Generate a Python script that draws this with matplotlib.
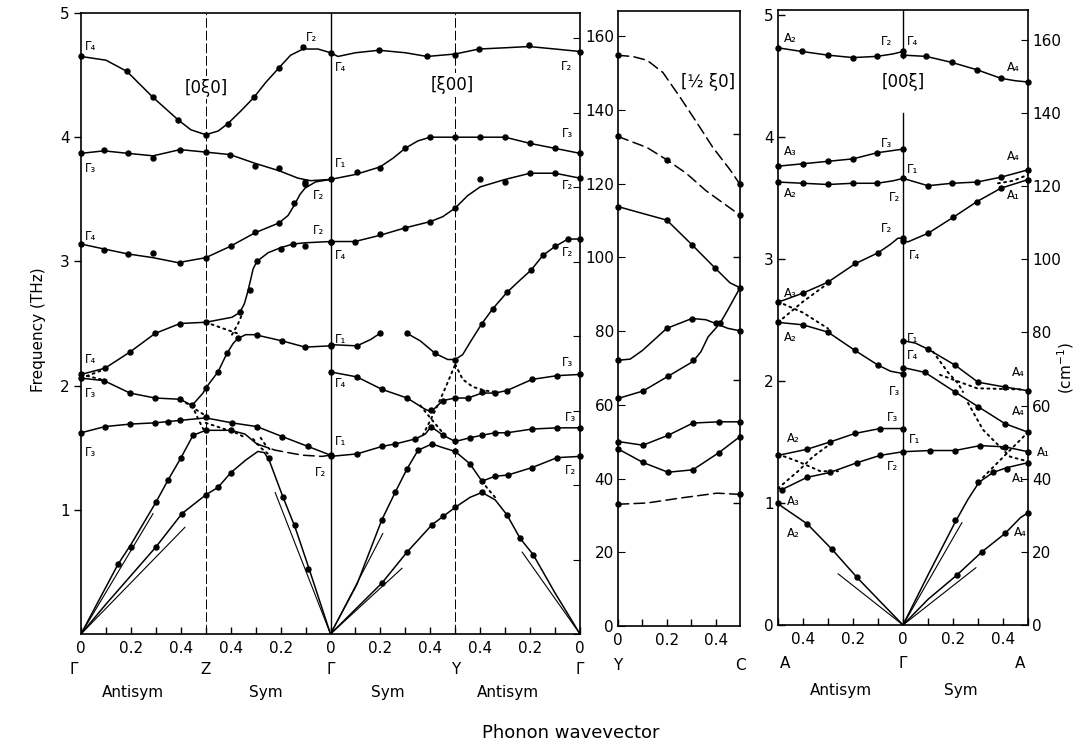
import matplotlib
matplotlib.use('Agg')
import matplotlib.pyplot as plt

THZ_PER_CM = 1 / 33.356

# ---------------- Panel 1 : Γ-Z-Γ-Y-Γ  (x: 0..2) ----------------
P1_TOP = [(0, 4.65), (0.1, 4.62), (0.184, 4.53), (0.289, 4.32), (0.389, 4.14), (0.44, 4.06), (0.5, 4.02),
          (0.55, 4.05), (0.589, 4.11), (0.64, 4.21), (0.693, 4.32), (0.74, 4.44), (0.794, 4.56),
          (0.84, 4.66), (0.89, 4.71), (0.95, 4.71), (1.0, 4.68), (1.03, 4.65), (1.1, 4.68), (1.194, 4.70),
          (1.3, 4.68), (1.387, 4.65), (1.5, 4.67), (1.595, 4.71), (1.7, 4.72), (1.796, 4.73), (1.9, 4.71), (2.0, 4.69)]
P1_TOP_DOTS = [(0, 4.65), (0.184, 4.53), (0.289, 4.32), (0.389, 4.14), (0.5, 4.02), (0.589, 4.11), (0.693, 4.32),
               (0.794, 4.56), (0.89, 4.73), (1.0, 4.68), (1.194, 4.70), (1.387, 4.65), (1.5, 4.66),
               (1.595, 4.71), (1.796, 4.74), (2.0, 4.69)]

P1_B2 = [(0, 3.87), (0.092, 3.89), (0.188, 3.87), (0.289, 3.85), (0.397, 3.90), (0.5, 3.88), (0.597, 3.86),
         (0.697, 3.79), (0.794, 3.73), (0.87, 3.67), (0.92, 3.65), (1.0, 3.66), (1.1, 3.70), (1.198, 3.76),
         (1.25, 3.83), (1.299, 3.91), (1.35, 3.97), (1.399, 4.00), (1.5, 4.00), (1.6, 4.00), (1.7, 4.00),
         (1.8, 3.95), (1.9, 3.91), (2.0, 3.87)]
P1_B2_DOTS = [(0, 3.87), (0.092, 3.90), (0.188, 3.87), (0.289, 3.83), (0.397, 3.90), (0.5, 3.88), (0.597, 3.86),
              (0.697, 3.77), (0.794, 3.75), (0.898, 3.64), (1.0, 3.66), (1.106, 3.72), (1.198, 3.75),
              (1.299, 3.91), (1.399, 4.0), (1.5, 4.0), (1.6, 4.0), (1.7, 4.0), (1.8, 3.95), (1.9, 3.91), (2.0, 3.87)]

P1_B3 = [(0, 3.14), (0.092, 3.10), (0.188, 3.06), (0.289, 3.03), (0.389, 2.99), (0.5, 3.03), (0.597, 3.12),
         (0.697, 3.23), (0.794, 3.31), (0.83, 3.37), (0.854, 3.45), (0.878, 3.54), (0.898, 3.59), (0.94, 3.64),
         (1.0, 3.66)]
P1_B3_DOTS = [(0, 3.14), (0.092, 3.09), (0.188, 3.06), (0.289, 3.07), (0.397, 2.99), (0.5, 3.03), (0.6, 3.12),
              (0.697, 3.24), (0.794, 3.31), (0.854, 3.47), (0.898, 3.62)]

P1_B3B = [(1.0, 3.16), (1.098, 3.16), (1.198, 3.21), (1.299, 3.27), (1.399, 3.32), (1.45, 3.36), (1.5, 3.43),
          (1.55, 3.53), (1.6, 3.60), (1.7, 3.66), (1.8, 3.71), (1.9, 3.71), (2.0, 3.67)]
P1_B3B_DOTS = [(1.0, 3.16), (1.098, 3.16), (1.198, 3.22), (1.299, 3.27), (1.399, 3.32), (1.5, 3.43),
               (1.599, 3.66), (1.699, 3.64), (1.8, 3.71), (1.9, 3.71), (2.0, 3.67)]

P1_B4 = [(0, 2.09), (0.096, 2.14), (0.196, 2.27), (0.297, 2.42), (0.397, 2.50), (0.5, 2.51), (0.605, 2.55),
         (0.637, 2.59), (0.655, 2.66), (0.669, 2.76), (0.69, 2.94), (0.705, 3.0), (0.75, 3.07), (0.80, 3.11),
         (0.85, 3.14), (0.90, 3.15), (1.0, 3.16)]
P1_B4_DOTS = [(0, 2.09), (0.096, 2.14), (0.196, 2.27), (0.297, 2.42), (0.397, 2.50), (0.5, 2.51), (0.637, 2.59),
              (0.677, 2.77), (0.705, 3.0), (0.80, 3.10), (0.85, 3.14), (0.898, 3.12), (1.0, 3.16)]

P1_B5 = [(0, 2.06), (0.092, 2.04), (0.196, 1.94), (0.297, 1.90), (0.397, 1.89), (0.445, 1.84), (0.489, 1.94),
         (0.5, 1.98), (0.549, 2.11), (0.585, 2.26), (0.61, 2.34), (0.629, 2.38), (0.66, 2.41), (0.697, 2.41),
         (0.806, 2.36), (0.898, 2.31), (1.0, 2.32)]
P1_B5_DOTS = [(0, 2.06), (0.092, 2.04), (0.196, 1.94), (0.297, 1.90), (0.397, 1.89), (0.445, 1.84), (0.5, 1.98),
              (0.549, 2.11), (0.585, 2.26), (0.629, 2.38), (0.705, 2.41), (0.806, 2.36), (0.898, 2.31), (1.0, 2.32)]

P1_B5B_A = [(1.0, 2.33), (1.106, 2.32), (1.16, 2.37), (1.198, 2.42)]
P1_B5B_B = [(1.307, 2.42), (1.36, 2.36), (1.419, 2.26), (1.47, 2.21), (1.5, 2.21), (1.53, 2.25), (1.56, 2.35),
            (1.607, 2.50), (1.651, 2.62), (1.707, 2.75), (1.76, 2.85), (1.804, 2.93), (1.852, 3.05),
            (1.9, 3.12), (1.952, 3.18), (2.0, 3.18)]
P1_B5B_DOTS = [(1.0, 2.33), (1.106, 2.32), (1.198, 2.42), (1.307, 2.42), (1.419, 2.26), (1.5, 2.21),
               (1.607, 2.50), (1.651, 2.62), (1.707, 2.75), (1.804, 2.93), (1.852, 3.05), (1.9, 3.12),
               (1.952, 3.18), (2.0, 3.18)]

P1_B6 = [(0, 1.62), (0.096, 1.67), (0.196, 1.69), (0.297, 1.70), (0.397, 1.72), (0.5, 1.74), (0.605, 1.70),
         (0.705, 1.67), (0.806, 1.59), (0.91, 1.51), (1.0, 1.44)]
P1_B6_DOTS = [(0, 1.62), (0.096, 1.67), (0.196, 1.69), (0.297, 1.70), (0.349, 1.71), (0.397, 1.72), (0.5, 1.75),
              (0.605, 1.70), (0.705, 1.67), (0.806, 1.59), (0.91, 1.51), (1.0, 1.44)]

P1_LA1 = [(0, 0), (0.148, 0.56), (0.2, 0.72), (0.3, 1.06), (0.349, 1.24), (0.401, 1.42), (0.449, 1.60),
          (0.5, 1.64), (0.549, 1.64), (0.6, 1.64), (0.657, 1.61), (0.705, 1.53)]
P1_LA1_DASH = [(0.705, 1.53), (0.778, 1.48), (0.886, 1.44), (0.966, 1.43), (1.0, 1.44)]
P1_LA1_DOTS = [(0.148, 0.56), (0.2, 0.70), (0.3, 1.06), (0.349, 1.24), (0.401, 1.42), (0.449, 1.60),
               (0.5, 1.64), (0.6, 1.64)]

P1_TA1 = [(0, 0), (0.1, 0.24), (0.2, 0.47), (0.3, 0.70), (0.405, 0.97), (0.5, 1.12), (0.549, 1.18),
          (0.601, 1.30), (0.66, 1.40), (0.709, 1.47), (0.735, 1.46), (0.754, 1.40), (0.81, 1.10),
          (0.858, 0.86), (0.91, 0.55), (1.0, 0)]
P1_TA1_DOTS = [(0.3, 0.70), (0.405, 0.97), (0.5, 1.12), (0.549, 1.18), (0.601, 1.30), (0.754, 1.42),
               (0.81, 1.10), (0.858, 0.88), (0.91, 0.52)]

P1_B9 = [(1.0, 2.11), (1.106, 2.07), (1.206, 1.97), (1.307, 1.90), (1.379, 1.81), (1.403, 1.79), (1.451, 1.88),
         (1.5, 1.90), (1.551, 1.90), (1.607, 1.94), (1.659, 1.94), (1.707, 1.96), (1.808, 2.05),
         (1.908, 2.08), (2.0, 2.09)]
P1_B9_DOTS = [(1.0, 2.11), (1.106, 2.07), (1.206, 1.97), (1.307, 1.90), (1.403, 1.80), (1.451, 1.88),
              (1.5, 1.90), (1.551, 1.90), (1.607, 1.95), (1.659, 1.94), (1.707, 1.96), (1.808, 2.05),
              (1.908, 2.08), (2.0, 2.09)]

P1_B10 = [(1.0, 1.43), (1.106, 1.45), (1.206, 1.51), (1.259, 1.53), (1.339, 1.57), (1.38, 1.61), (1.403, 1.67),
          (1.451, 1.60), (1.5, 1.55), (1.559, 1.58), (1.607, 1.60), (1.659, 1.62), (1.707, 1.62),
          (1.808, 1.65), (1.908, 1.66), (2.0, 1.66)]
P1_B10_DOTS = [(1.0, 1.43), (1.106, 1.45), (1.206, 1.51), (1.259, 1.53), (1.339, 1.57), (1.403, 1.67),
               (1.451, 1.60), (1.5, 1.55), (1.559, 1.58), (1.607, 1.60), (1.659, 1.62), (1.707, 1.62),
               (1.808, 1.65), (1.908, 1.66), (2.0, 1.66)]

P1_LA2 = [(1.0, 0), (1.106, 0.40), (1.206, 0.92), (1.259, 1.14), (1.307, 1.33), (1.351, 1.48), (1.407, 1.53),
          (1.451, 1.50), (1.5, 1.47), (1.559, 1.37), (1.607, 1.23), (1.659, 1.27), (1.711, 1.28),
          (1.808, 1.34), (1.908, 1.42), (2.0, 1.43)]
P1_LA2_DOTS = [(1.206, 0.92), (1.259, 1.14), (1.307, 1.33), (1.351, 1.48), (1.407, 1.53), (1.5, 1.47),
               (1.559, 1.37), (1.607, 1.23), (1.659, 1.27), (1.711, 1.28), (1.808, 1.34), (1.908, 1.42),
               (2.0, 1.43)]

P1_TA2 = [(1.0, 0), (1.206, 0.41), (1.307, 0.66), (1.407, 0.88), (1.5, 1.02), (1.559, 1.10), (1.607, 1.14),
          (1.66, 1.08), (1.707, 0.96), (1.76, 0.77), (1.812, 0.64), (1.9, 0.33), (2.0, 0)]
P1_TA2_DOTS = [(1.206, 0.41), (1.307, 0.66), (1.407, 0.88), (1.45, 0.95), (1.5, 1.02), (1.607, 1.14),
               (1.707, 0.96), (1.76, 0.77), (1.812, 0.64)]

P1_DOTTED = [
    [(0.5, 2.51), (0.57, 2.46), (0.641, 2.41)],
    [(0.605, 2.41), (0.63, 2.50), (0.649, 2.59)],
    [(0.40, 1.89), (0.45, 1.82), (0.49, 1.77)],
    [(0.445, 1.84), (0.47, 1.73), (0.49, 1.65)],
    [(0.5, 1.70), (0.56, 1.66), (0.62, 1.62), (0.66, 1.58)],
    [(0.69, 1.57), (0.72, 1.50), (0.75, 1.45)],
    [(0.72, 1.58), (0.74, 1.52), (0.765, 1.47)],
    [(0, 2.09), (0.08, 2.05)],
    [(0, 2.06), (0.08, 2.12)],
    [(1.37, 1.60), (1.42, 1.80), (1.46, 1.98), (1.5, 2.17)],
    [(1.5, 2.17), (1.53, 2.05), (1.57, 1.99), (1.62, 1.96), (1.66, 1.95)],
    [(1.36, 1.84), (1.40, 1.74), (1.45, 1.62)],
    [(1.607, 1.23), (1.63, 1.17), (1.66, 1.10)],
]
P1_SOUND = [[(0, 0), (0.289, 0.97)], [(0, 0), (0.417, 0.86)], [(0.778, 1.14), (1.0, 0)],
            [(1.0, 0), (1.21, 0.81)], [(1.0, 0), (1.287, 0.53)], [(1.768, 0.66), (2.0, 0)]]
P1_LABELS = [(0.04, 4.73, 'Γ₄'), (0.925, 4.80, 'Γ₂'), (1.04, 4.56, 'Γ₄'), (1.945, 4.57, 'Γ₂'),
             (0.04, 3.75, 'Γ₃'), (0.95, 3.53, 'Γ₂'), (1.04, 3.79, 'Γ₁'), (1.95, 4.03, 'Γ₃'),
             (0.04, 3.20, 'Γ₄'), (0.95, 3.25, 'Γ₂'), (1.04, 3.05, 'Γ₄'), (1.95, 3.61, 'Γ₂'), (1.95, 3.07, 'Γ₂'),
             (0.04, 2.21, 'Γ₄'), (1.04, 2.37, 'Γ₁'), (0.04, 1.94, 'Γ₃'), (1.04, 2.02, 'Γ₄'), (1.95, 2.19, 'Γ₃'),
             (0.04, 1.46, 'Γ₃'), (0.96, 1.30, 'Γ₂'), (1.04, 1.55, 'Γ₁'), (1.96, 1.74, 'Γ₃'), (1.96, 1.32, 'Γ₂')]
P1_TICKS = [0, 0.2, 0.4, 0.6, 0.8, 1.0, 1.2, 1.4, 1.6, 1.8, 2.0]
P1_TICKLABELS = ['0', '0.2', '0.4', '0.4', '0.2', '0', '0.2', '0.4', '0.4', '0.2', '0']
P1_POINTS = [(-0.03, 'Γ'), (0.5, 'Z'), (1.0, 'Γ'), (1.5, 'Y'), (2.0, 'Γ')]
P1_SYM = [(0.21, 'Antisym'), (0.74, 'Sym'), (1.23, 'Sym'), (1.71, 'Antisym')]

# ---------------- Panel 2 : Y-C  (x: 0..0.5) ----------------
P2_D1 = [(0, 4.64), (0.06, 4.63), (0.119, 4.60), (0.184, 4.50), (0.254, 4.30), (0.324, 4.09), (0.389, 3.89),
         (0.459, 3.71), (0.5, 3.59)]
P2_D2 = [(0, 3.98), (0.119, 3.89), (0.2, 3.79), (0.28, 3.68), (0.36, 3.54), (0.43, 3.44), (0.5, 3.34)]
P2_S3 = [(0, 3.41), (0.09, 3.36), (0.2, 3.30), (0.303, 3.10), (0.398, 2.91), (0.459, 2.79), (0.5, 2.75)]
P2_S4 = [(0, 2.16), (0.05, 2.17), (0.1, 2.24), (0.2, 2.42), (0.303, 2.50), (0.36, 2.49), (0.4, 2.46),
         (0.45, 2.42), (0.5, 2.40)]
P2_S5 = [(0, 1.85), (0.102, 1.91), (0.205, 2.03), (0.307, 2.15), (0.34, 2.23), (0.369, 2.35), (0.418, 2.46),
         (0.45, 2.57), (0.5, 2.75)]
P2_S6 = [(0, 1.50), (0.102, 1.47), (0.205, 1.55), (0.307, 1.65), (0.414, 1.66), (0.5, 1.66)]
P2_S7 = [(0, 1.44), (0.102, 1.33), (0.205, 1.25), (0.307, 1.27), (0.414, 1.41), (0.5, 1.54)]
P2_D8 = [(0, 0.99), (0.119, 1.0), (0.254, 1.04), (0.406, 1.08), (0.5, 1.07)]
P2_DOTS = [(0, 4.64), (0.5, 3.59), (0, 3.98), (0.2, 3.79), (0.5, 3.34), (0, 3.41), (0.2, 3.30), (0.303, 3.10),
           (0.398, 2.91), (0.5, 2.75), (0, 2.16), (0.2, 2.42), (0.303, 2.50), (0.4, 2.46), (0.5, 2.40),
           (0, 1.85), (0.102, 1.91), (0.205, 2.03), (0.307, 2.16), (0.418, 2.46), (0, 1.50), (0.102, 1.47),
           (0.205, 1.55), (0.307, 1.65), (0.414, 1.66), (0.5, 1.66), (0, 1.44), (0.102, 1.33), (0.205, 1.25),
           (0.307, 1.27), (0.414, 1.41), (0.5, 1.54), (0, 0.99), (0.5, 1.07)]
P2_TICKS = [0, 0.2, 0.4]
P2_TICKLABELS = ['0', '0.2', '0.4']
P2_POINTS = [(0, 'Y'), (0.5, 'C')]
CM_TICKS = [0, 20, 40, 60, 80, 100, 120, 140, 160]

# ---------------- Panel 3 : A-Γ-A  (x: -0.5..0.5) ----------------
P3_Q1L = [(-0.5, 4.73), (-0.404, 4.70), (-0.3, 4.67), (-0.2, 4.65), (-0.104, 4.66), (-0.04, 4.68), (0, 4.70)]
P3_Q1R = [(0, 4.67), (0.092, 4.66), (0.196, 4.61), (0.296, 4.55), (0.392, 4.48), (0.45, 4.46), (0.5, 4.45)]
P3_Q2 = [(-0.5, 3.76), (-0.4, 3.78), (-0.3, 3.80), (-0.2, 3.82), (-0.104, 3.87), (0, 3.90)]
P3_Q3 = [(-0.5, 3.63), (-0.4, 3.62), (-0.3, 3.61), (-0.2, 3.62), (-0.104, 3.62), (-0.04, 3.64), (0, 3.66),
         (0.05, 3.63), (0.1, 3.60), (0.196, 3.62), (0.296, 3.63), (0.392, 3.67), (0.5, 3.73)]
P3_Q4 = [(0, 3.15), (0.02, 3.14), (0.1, 3.21), (0.2, 3.34), (0.296, 3.47), (0.392, 3.58), (0.5, 3.65)]
P3_Q5 = [(-0.5, 2.65), (-0.48, 2.66), (-0.4, 2.72), (-0.3, 2.81), (-0.192, 2.96), (-0.1, 3.05), (-0.05, 3.12),
         (-0.02, 3.17), (0, 3.17)]
P3_Q6 = [(-0.5, 2.48), (-0.4, 2.46), (-0.3, 2.40), (-0.192, 2.25), (-0.1, 2.13), (-0.05, 2.08), (0, 2.06)]
P3_Q7 = [(0, 2.33), (0.05, 2.31), (0.1, 2.26), (0.208, 2.13), (0.3, 1.99), (0.408, 1.95), (0.5, 1.92)]
P3_Q8 = [(0, 2.11), (0.088, 2.07), (0.208, 1.91), (0.3, 1.79), (0.408, 1.65), (0.5, 1.58)]
P3_Q9 = [(0, 1.42), (0.108, 1.43), (0.208, 1.43), (0.308, 1.47), (0.408, 1.46), (0.5, 1.42)]
P3_Q10 = [(0, 0), (0.1, 0.41), (0.208, 0.84), (0.26, 1.03), (0.304, 1.17), (0.36, 1.25), (0.416, 1.29),
          (0.5, 1.33)]
P3_Q11 = [(0, 0), (0.1, 0.21), (0.216, 0.41), (0.316, 0.60), (0.408, 0.75), (0.47, 0.88), (0.5, 0.92)]
P3_Q12 = [(-0.5, 1.39), (-0.384, 1.44), (-0.292, 1.50), (-0.192, 1.57), (-0.092, 1.61), (0, 1.61)]
P3_Q13 = [(-0.5, 1.12), (-0.484, 1.11), (-0.384, 1.21), (-0.292, 1.25), (-0.184, 1.33), (-0.092, 1.39),
          (0, 1.42)]
P3_Q14 = [(-0.5, 1.0), (-0.484, 0.97), (-0.384, 0.83), (-0.284, 0.62), (-0.184, 0.39), (-0.09, 0.19), (0, 0)]
P3_DOTS = [(-0.5, 4.73), (-0.404, 4.70), (-0.3, 4.67), (-0.2, 4.65), (-0.104, 4.66), (0, 4.70),
           (0, 4.67), (0.092, 4.66), (0.196, 4.61), (0.296, 4.55), (0.392, 4.48), (0.5, 4.45),
           (-0.5, 3.76), (-0.4, 3.78), (-0.3, 3.80), (-0.2, 3.82), (-0.104, 3.87), (0, 3.90),
           (-0.5, 3.63), (-0.4, 3.62), (-0.3, 3.61), (-0.2, 3.62), (-0.104, 3.62), (0, 3.66), (0.1, 3.60),
           (0.196, 3.62), (0.296, 3.63), (0.392, 3.67), (0.5, 3.73),
           (0, 3.15), (0.1, 3.21), (0.2, 3.34), (0.296, 3.47), (0.392, 3.58), (0.5, 3.65),
           (-0.5, 2.65), (-0.4, 2.72), (-0.3, 2.81), (-0.192, 2.97), (-0.1, 3.05), (0, 3.17),
           (-0.5, 2.48), (-0.4, 2.46), (-0.3, 2.40), (-0.192, 2.25), (-0.1, 2.13), (0, 2.06),
           (0, 2.33), (0.1, 2.26), (0.208, 2.13), (0.3, 1.99), (0.408, 1.95), (0.5, 1.92),
           (0, 2.11), (0.088, 2.07), (0.208, 1.91), (0.3, 1.79), (0.408, 1.65), (0.5, 1.58),
           (0, 1.42), (0.108, 1.43), (0.208, 1.43), (0.308, 1.47), (0.408, 1.46), (0.5, 1.42),
           (0.208, 0.86), (0.3, 1.17), (0.36, 1.25), (0.416, 1.28), (0.5, 1.33),
           (0.216, 0.41), (0.316, 0.60), (0.408, 0.75), (0.5, 0.92),
           (-0.5, 1.39), (-0.384, 1.44), (-0.292, 1.50), (-0.192, 1.57), (-0.092, 1.61), (0, 1.61),
           (-0.484, 1.11), (-0.384, 1.21), (-0.292, 1.25), (-0.184, 1.33), (-0.092, 1.39),
           (-0.5, 1.0), (-0.384, 0.83), (-0.284, 0.62), (-0.184, 0.39)]
P3_DOTTED = [
    [(0.38, 3.62), (0.44, 3.64), (0.5, 3.69)],
    [(-0.5, 2.65), (-0.4, 2.56), (-0.3, 2.43)],
    [(-0.5, 2.48), (-0.4, 2.65), (-0.3, 2.80)],
    [(0.12, 2.24), (0.18, 2.07), (0.22, 1.98), (0.24, 1.91)],
    [(0.148, 2.05), (0.296, 1.94), (0.48, 1.93)],
    [(0.26, 1.82), (0.32, 1.60), (0.388, 1.46), (0.428, 1.38), (0.5, 1.34)],
    [(0.32, 1.21), (0.388, 1.35), (0.456, 1.49), (0.5, 1.58)],
    [(-0.5, 1.40), (-0.42, 1.34), (-0.33, 1.26), (-0.26, 1.26)],
    [(-0.5, 1.12), (-0.42, 1.26), (-0.36, 1.38), (-0.3, 1.47)],
]
P3_SOUND = [[(-0.26, 0.42), (0, 0)], [(0, 0), (0.236, 0.84)], [(0, 0), (0.292, 0.47)]]
P3_LABELS = [(-0.45, 4.81, 'A₂'), (-0.065, 4.78, 'Γ₂'), (0.04, 4.78, 'Γ₄'), (0.44, 4.57, 'A₄'),
             (-0.45, 3.88, 'A₃'), (-0.065, 3.95, 'Γ₃'), (0.04, 3.73, 'Γ₁'), (0.44, 3.84, 'A₄'),
             (-0.45, 3.54, 'A₂'), (-0.035, 3.50, 'Γ₂'), (0.44, 3.52, 'A₁'), (-0.065, 3.25, 'Γ₂'),
             (0.045, 3.03, 'Γ₄'), (-0.45, 2.72, 'A₃'), (-0.45, 2.36, 'A₂'), (0.04, 2.35, 'Γ₁'),
             (0.04, 2.21, 'Γ₄'), (-0.035, 1.91, 'Γ₃'), (0.46, 2.07, 'A₄'), (0.46, 1.75, 'A₄'),
             (-0.04, 1.70, 'Γ₃'), (-0.44, 1.53, 'A₂'), (0.045, 1.52, 'Γ₁'), (0.56, 1.41, 'A₁'),
             (-0.04, 1.30, 'Γ₂'), (0.46, 1.20, 'A₁'), (-0.44, 1.01, 'A₃'), (-0.44, 0.75, 'A₂'),
             (0.47, 0.76, 'A₄')]
P3_TICKS = [-0.4, -0.2, 0, 0.2, 0.4]
P3_TICKLABELS = ['0.4', '0.2', '0', '0.2', '0.4']
P3_POINTS = [(-0.47, 'A'), (0, 'Γ'), (0.47, 'A')]
P3_SYM = [(-0.25, 'Antisym'), (0.23, 'Sym')]

# ---------------- drawing ----------------
W, H = 1085, 747
fig = plt.figure(figsize=(W / 100, H / 100), dpi=100)
plt.rcParams['font.family'] = ['DejaVu Sans']


def box(l, r, b, t):
    return [l / W, 1 - b / H, (r - l) / W, (b - t) / H]


ax1 = fig.add_axes(box(81, 580, 634, 13))
ax2 = fig.add_axes(box(618, 740, 626, 11))
ax3 = fig.add_axes(box(778, 1028, 625, 10))
ax1.set_xlim(0, 2); ax1.set_ylim(0, 5)
ax2.set_xlim(0, 0.5); ax2.set_ylim(0, 5.0)
ax3.set_xlim(-0.5, 0.5); ax3.set_ylim(0, 5.04)

K = 'black'
LW = 1.1
DASH = (0, (7, 3.5))
DOT = (0, (1, 2.2))


def line(ax, pts, ls='-', lw=LW):
    ax.plot([p[0] for p in pts], [p[1] for p in pts], color=K, lw=lw, ls=ls,
            solid_capstyle='round', dash_capstyle='round', zorder=3)


def dots(ax, pts):
    ax.plot([p[0] for p in pts], [p[1] for p in pts], 'o', color=K, ms=3.6, zorder=4, clip_on=False)


for pts in [P1_TOP, P1_B2, P1_B3, P1_B3B, P1_B4, P1_B5, P1_B5B_A, P1_B5B_B, P1_B6, P1_LA1, P1_TA1,
            P1_B9, P1_B10, P1_LA2, P1_TA2]:
    line(ax1, pts)
line(ax1, P1_LA1_DASH, DASH)
for pts in P1_DOTTED:
    line(ax1, pts, DOT, 1.4)
for pts in P1_SOUND:
    line(ax1, pts, '-', 0.8)
for d in [P1_TOP_DOTS, P1_B2_DOTS, P1_B3_DOTS, P1_B3B_DOTS, P1_B4_DOTS, P1_B5_DOTS, P1_B5B_DOTS, P1_B6_DOTS,
          P1_LA1_DOTS, P1_TA1_DOTS, P1_B9_DOTS, P1_B10_DOTS, P1_LA2_DOTS, P1_TA2_DOTS]:
    dots(ax1, d)

for pts in [P2_D1, P2_D2, P2_D8]:
    line(ax2, pts, DASH)
for pts in [P2_S3, P2_S4, P2_S5, P2_S6, P2_S7]:
    line(ax2, pts)
dots(ax2, P2_DOTS)

for pts in [P3_Q1L, P3_Q1R, P3_Q2, P3_Q3, P3_Q4, P3_Q5, P3_Q6, P3_Q7, P3_Q8, P3_Q9, P3_Q10, P3_Q11,
            P3_Q12, P3_Q13, P3_Q14]:
    line(ax3, pts)
for pts in P3_DOTTED:
    line(ax3, pts, DOT, 1.4)
for pts in P3_SOUND:
    line(ax3, pts, '-', 0.8)
dots(ax3, P3_DOTS)

# symmetry-point vertical lines
ax1.axvline(1.0, color=K, lw=1.0, zorder=2)
for xv in (0.5, 1.5):
    ax1.axvline(xv, color=K, lw=0.7, ls=(0, (10, 3)), zorder=1)
ax3.plot([0, 0], [0, 4.2], color=K, lw=1.0, zorder=2)
ax3.plot([0, 0], [4.65, 5.04], color=K, lw=1.0, zorder=2)

# direction labels
bb = dict(facecolor='white', edgecolor='none', pad=2)
ax1.text(0.5, 4.40, '[0ξ0]', ha='center', va='center', fontsize=12, bbox=bb, zorder=5)
ax1.text(1.487, 4.42, '[ξ00]', ha='center', va='center', fontsize=12, bbox=bb, zorder=5)
ax2.text(0.369, 4.42, '[½ ξ0]', ha='center', va='center', fontsize=12, zorder=5)
ax3.text(0.0, 4.45, '[00ξ]', ha='center', va='center', fontsize=12, zorder=5)

for ax, labs in ((ax1, P1_LABELS), (ax3, P3_LABELS)):
    for x, y, t in labs:
        ax.text(x, y, t, ha='center', va='center', fontsize=8.5, zorder=5, clip_on=False)

# spines and ticks
for ax in (ax1, ax2, ax3):
    for s in ax.spines.values():
        s.set_linewidth(1.2)
    ax.tick_params(axis='both', which='both', direction='in', length=5, width=1, labelsize=11, pad=5)

ax1.set_xticks(P1_TICKS)
ax1.set_xticklabels(P1_TICKLABELS)
ax1.set_xticks([i / 10 for i in range(21)], minor=True)
ax1.set_yticks([1, 2, 3, 4, 5])
ax1.tick_params(axis='y', direction='out', length=5, pad=3)
s1 = ax1.secondary_yaxis('right', functions=(lambda v: v / THZ_PER_CM, lambda c: c * THZ_PER_CM))
s1.set_yticks(CM_TICKS)
s1.tick_params(direction='in', length=5, labelright=False)
s1.spines['right'].set_visible(False)

ax2.set_xticks(P2_TICKS)
ax2.set_xticklabels(P2_TICKLABELS)
ax2.set_xticks([0.1, 0.3], minor=True)
ax2.set_yticks([1, 2, 3, 4])
ax2.tick_params(axis='y', left=False, right=True, labelleft=False)
s2 = ax2.secondary_yaxis('left', functions=(lambda v: v / THZ_PER_CM, lambda c: c * THZ_PER_CM))
s2.set_yticks(CM_TICKS)
s2.set_yticklabels([str(c) for c in CM_TICKS])
s2.tick_params(direction='in', length=5, labelsize=11, pad=3)
s2.spines['left'].set_visible(False)

ax3.set_xticks(P3_TICKS)
ax3.set_xticklabels(P3_TICKLABELS)
ax3.set_xticks([-0.5, -0.3, -0.1, 0.1, 0.3, 0.5], minor=True)
ax3.set_yticks([0, 1, 2, 3, 4, 5])
ax3.tick_params(axis='y', pad=3)
s3 = ax3.secondary_yaxis('right', functions=(lambda v: v / THZ_PER_CM, lambda c: c * THZ_PER_CM))
s3.set_yticks(CM_TICKS)
s3.set_yticklabels([str(c) for c in CM_TICKS])
s3.tick_params(direction='in', length=5, labelsize=11, pad=3)
s3.spines['right'].set_visible(False)


# second / third label rows
def row(ax, items, off, fs=11):
    for x, t in items:
        ax.annotate(t, xy=(x, 0), xycoords=ax.get_xaxis_transform(), xytext=(0, off),
                    textcoords='offset pixels', ha='center', va='center', fontsize=fs, annotation_clip=False)


row(ax1, P1_POINTS, -36)
row(ax1, P1_SYM, -59)
row(ax2, P2_POINTS, -40)
row(ax3, P3_POINTS, -38)
row(ax3, P3_SYM, -65)

fig.text(38 / W, 1 - 330 / H, 'Frequency (THz)', rotation=90, ha='center', va='center', fontsize=11)
fig.text(1066 / W, 1 - 368 / H, '(cm$^{-1}$)', rotation=90, ha='center', va='center', fontsize=11)
fig.text(571 / W, 1 - 733 / H, 'Phonon wavevector', ha='center', va='center', fontsize=13)

fig.savefig('out.png', dpi=100, facecolor='white')
